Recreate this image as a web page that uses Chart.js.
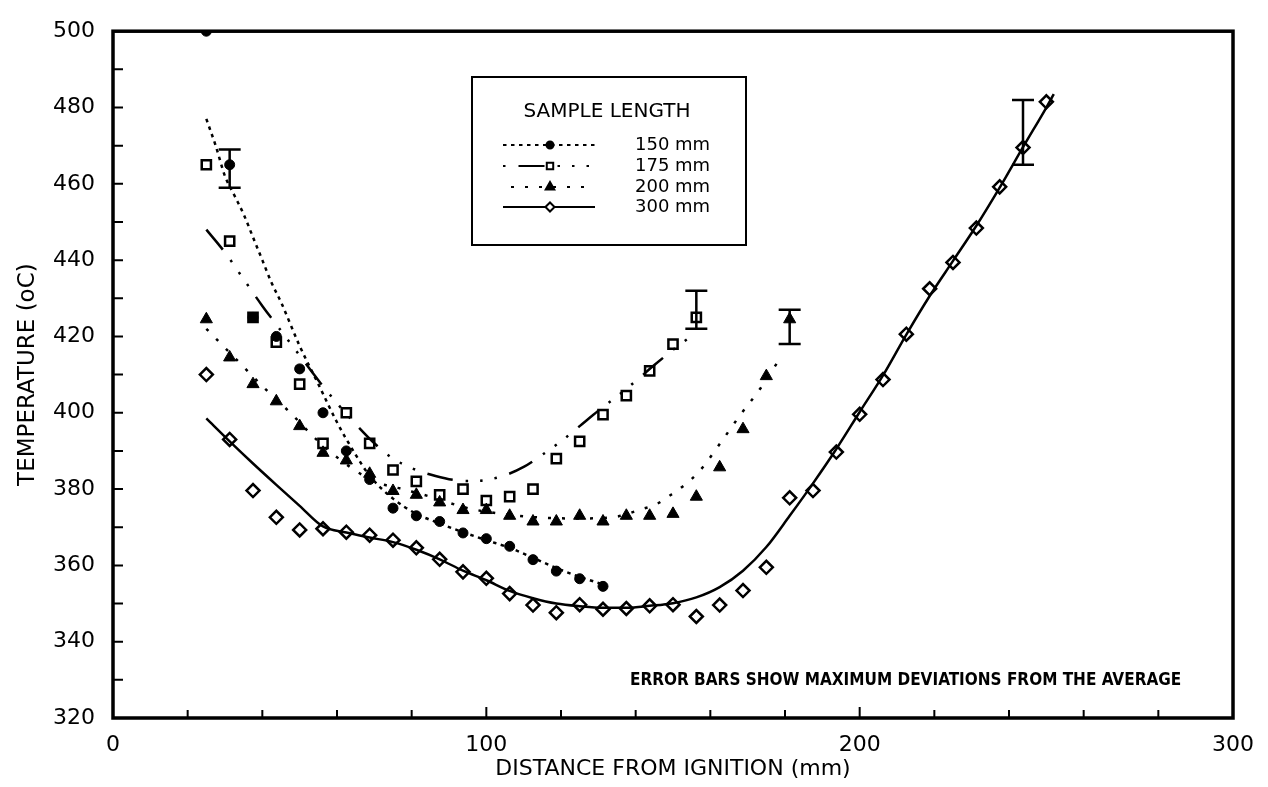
<!DOCTYPE html>
<html>
<head>
<meta charset="utf-8">
<script src="https://cdn.jsdelivr.net/npm/chart.js@4.4.0/dist/chart.umd.min.js"></script>
<style>
  html, body { margin: 0; padding: 0; background: #fff; }
  #wrap { width: 1268px; height: 787px; }
</style>
</head>
<body>
<div id="wrap"><canvas id="tempChart"></canvas></div>
<script>
// measured temperatures (oC) against distance from ignition (mm), per sample length
var dist150 = [25, 31.25, 37.5, 43.75, 50, 56.25, 62.5, 68.75, 75, 81.25, 87.5, 93.75, 100, 106.25, 112.5, 118.75, 125, 131.25];
var temp150 = [500, 465, 425, 420, 411.5, 400, 390, 382.5, 375, 373, 371.5, 368.5, 367, 365, 361.5, 358.5, 356.5, 354.5];

var dist175 = [25, 31.25, 37.5, 43.75, 50, 56.25, 62.5, 68.75, 75, 81.25, 87.5, 93.75, 100, 106.25, 112.5, 118.75, 125, 131.25, 137.5, 143.75, 150, 156.25];
var temp175 = [465, 445, 425, 418.5, 407.5, 392, 400, 392, 385, 382, 378.5, 380, 377, 378, 380, 388, 392.5, 399.5, 404.5, 411, 418, 425];

var dist200 = [25, 31.25, 37.5, 43.75, 50, 56.25, 62.5, 68.75, 75, 81.25, 87.5, 93.75, 100, 106.25, 112.5, 118.75, 125, 131.25, 137.5, 143.75, 150, 156.25, 162.5, 168.75, 175, 181.25];
var temp200 = [424.5, 414.5, 407.5, 403, 396.5, 389.5, 387.5, 384, 379.5, 378.5, 376.5, 374.5, 374.5, 373, 371.5, 371.5, 373, 371.5, 373, 373, 373.5, 378, 385.7, 395.7, 409.6, 424.5];

var dist300 = [25, 31.25, 37.5, 43.75, 50, 56.25, 62.5, 68.75, 75, 81.25, 87.5, 93.75, 100, 106.25, 112.5, 118.75, 125, 131.25, 137.5, 143.75, 150, 156.25, 162.5, 168.75, 175, 181.25, 187.5, 193.75, 200, 206.25, 212.5, 218.75, 225, 231.25, 237.5, 243.75, 250];
var temp300 = [410, 393, 379.6, 372.6, 369.3, 369.6, 368.7, 367.9, 366.6, 364.6, 361.6, 358.3, 356.6, 352.6, 349.6, 347.6, 349.7, 348.5, 348.7, 349.4, 349.7, 346.6, 349.6, 353.4, 359.5, 377.7, 379.6, 389.7, 399.6, 408.7, 420.6, 432.5, 439.4, 448.4, 459.2, 469.5, 481.5];

// fitted trend curves
var fit150X = [25, 27.5, 30, 32.5, 35, 37.5, 40, 42.5, 45, 50, 55, 60, 65, 68.75, 75, 81.25, 87.5, 93.75, 100, 106.25, 112.5, 118.75, 125, 131.25];
var fit150Y = [477, 470, 462, 457, 452, 446, 440, 434, 429, 417.5, 407.5, 397.5, 389, 383.5, 377.5, 373.5, 371, 368.7, 366.6, 364.6, 362, 359.3, 357, 355];

var fit175X = [25, 30, 35, 40, 45, 50, 55, 60, 65, 70, 75, 80, 85, 90, 95, 100, 105, 110, 115, 120, 125, 130, 135, 140, 145, 150, 156.25];
var fit175Y = [448, 442, 435, 428, 421.5, 415, 408.5, 402.5, 397, 392, 388, 385.5, 383.8, 382.6, 382.1, 382.4, 383.6, 385.8, 389, 392.5, 396.5, 400.5, 404.3, 408.3, 412.5, 416.5, 421];

var fit200X = [25, 30, 35, 40, 47.5, 55, 62.5, 70, 77.5, 85, 95, 105, 115, 125, 135, 141.5, 145.5, 149, 153, 157, 162.5, 168, 173.5, 178.5];
var fit200Y = [422, 417, 412, 407, 400, 392.5, 386.5, 382, 380, 378, 375, 373.4, 372.5, 372.3, 372.8, 374.7, 376, 378.2, 381, 384.6, 391.8, 399.4, 406.5, 414];

var fit300X = [25, 31.25, 37.5, 43.75, 50, 56.25, 62.5, 68.75, 75, 81.25, 87.5, 93.75, 100, 106.25, 112.5, 118.75, 125, 131.25, 137.5, 143.75, 150, 156.25, 162.5, 168.75, 175, 181.25, 187.5, 193.75, 200, 206.25, 212.5, 218.75, 225, 231.25, 237.5, 243.75, 250, 252];
var fit300Y = [398.5, 392.5, 386.7, 381.1, 375.6, 370.2, 368.6, 367.3, 366.1, 364.1, 361.6, 358.6, 356.1, 353.3, 351.4, 350, 349.3, 348.9, 348.9, 349.4, 350.1, 351.6, 354.3, 358.6, 364.8, 373, 381.5, 390.5, 400.2, 409.8, 420.5, 430.6, 439.8, 449, 459, 469.6, 480, 483.5];

// maximum deviations from the average
var errX = [31.25, 156.25, 181.25, 243.75];
var errLow = [459, 422, 418, 465];
var errHigh = [469, 432, 427, 482];

var seriesLabels = ['150 mm', '175 mm', '200 mm', '300 mm'];

function pairs(xs, ys) {
    return xs.map(function (x, i) { return { x: x, y: ys[i] }; });
}

var dashes = [
    [3.5, 4.5],
    [26, 13, 2.5, 12, 2.5, 12, 2.5, 13],
    [3, 11],
    []
];
// where each dash pattern starts in the legend samples
var legendDashOffset = [0, 68, 6, 0];

function fitSet(xs, ys, dash) {
    return {
        data: pairs(xs, ys),
        showLine: true,
        borderColor: '#000',
        borderWidth: 2.5,
        borderDash: dash,
        pointRadius: 0,
        cubicInterpolationMode: 'monotone'
    };
}

var markerStyles = [
    { pointStyle: 'circle', pointRadius: 5, pointBackgroundColor: '#000', pointBorderWidth: 1 },
    { pointStyle: 'rect', pointRadius: 6.5, pointBackgroundColor: 'rgba(0,0,0,0)', pointBorderWidth: 2.5 },
    { pointStyle: 'triangle', pointRadius: 7, pointBackgroundColor: '#000', pointBorderWidth: 1 },
    { pointStyle: 'rectRot', pointRadius: 6.5, pointBackgroundColor: 'rgba(0,0,0,0)', pointBorderWidth: 2.5 }
];

function pointSet(xs, ys, style) {
    return Object.assign({
        data: pairs(xs, ys),
        showLine: false,
        pointBorderColor: '#000'
    }, style);
}

var datasets = [
    fitSet(fit150X, fit150Y, dashes[0]),
    fitSet(fit175X, fit175Y, dashes[1]),
    fitSet(fit200X, fit200Y, dashes[2]),
    fitSet(fit300X, fit300Y, dashes[3]),
    pointSet(dist150, temp150, markerStyles[0]),
    pointSet(dist175, temp175, markerStyles[1]),
    pointSet(dist200, temp200, markerStyles[2]),
    pointSet(dist300, temp300, markerStyles[3])
];
// the first 150 mm reading sits on the top edge, let it be cut there
datasets[4].clip = { left: false, top: 0, right: false, bottom: false };

var frameAndTicks = {
    id: 'frameAndTicks',
    afterDatasetsDraw: function (chart) {
        var ctx = chart.ctx, a = chart.chartArea, x = chart.scales.x, y = chart.scales.y;
        ctx.save();
        ctx.strokeStyle = '#000';
        ctx.lineWidth = 2;
        ctx.beginPath();
        x.ticks.forEach(function (t) {
            if (t.value <= x.min || t.value >= x.max) return;
            var px = x.getPixelForValue(t.value);
            var len = t.value % 100 === 0 ? 11 : 8;
            ctx.moveTo(px, a.bottom);
            ctx.lineTo(px, a.bottom - len);
        });
        y.ticks.forEach(function (t) {
            if (t.value <= y.min || t.value >= y.max) return;
            var py = y.getPixelForValue(t.value);
            ctx.moveTo(a.left, py);
            ctx.lineTo(a.left + 10, py);
        });
        ctx.stroke();
        ctx.lineWidth = 3.5;
        ctx.strokeRect(a.left, a.top, a.right - a.left, a.bottom - a.top);
        ctx.restore();
    }
};

var errorBars = {
    id: 'errorBars',
    afterDatasetsDraw: function (chart) {
        var ctx = chart.ctx, x = chart.scales.x, y = chart.scales.y;
        ctx.save();
        ctx.strokeStyle = '#000';
        ctx.lineWidth = 2.5;
        errX.forEach(function (v, i) {
            var px = x.getPixelForValue(v);
            var lo = y.getPixelForValue(errLow[i]);
            var hi = y.getPixelForValue(errHigh[i]);
            ctx.beginPath();
            ctx.moveTo(px, lo); ctx.lineTo(px, hi);
            ctx.moveTo(px - 11, lo); ctx.lineTo(px + 11, lo);
            ctx.moveTo(px - 11, hi); ctx.lineTo(px + 11, hi);
            ctx.stroke();
        });
        ctx.restore();
    }
};

var sampleLegend = {
    id: 'sampleLegend',
    afterDraw: function (chart) {
        var ctx = chart.ctx;
        var box = { left: 472, top: 77, right: 746, bottom: 245 };
        ctx.save();
        ctx.fillStyle = '#fff';
        ctx.fillRect(box.left, box.top, box.right - box.left, box.bottom - box.top);
        ctx.strokeStyle = '#000';
        ctx.lineWidth = 2;
        ctx.strokeRect(box.left, box.top, box.right - box.left, box.bottom - box.top);

        ctx.fillStyle = '#000';
        ctx.font = '20px "DejaVu Sans"';
        ctx.textAlign = 'center';
        ctx.textBaseline = 'middle';
        ctx.fillText('SAMPLE LENGTH', 607, 112);

        var rows = [145, 166, 187, 207];
        ctx.font = '18px "DejaVu Sans"';
        ctx.textAlign = 'left';
        rows.forEach(function (ry, i) {
            ctx.save();
            ctx.lineWidth = 2;
            ctx.setLineDash(dashes[i]);
            ctx.lineDashOffset = legendDashOffset[i];
            ctx.beginPath();
            ctx.moveTo(503, ry);
            ctx.lineTo(595, ry);
            ctx.stroke();
            ctx.restore();
            var m = markerStyles[i];
            ctx.save();
            ctx.fillStyle = m.pointBackgroundColor === '#000' ? '#000' : '#fff';
            ctx.strokeStyle = '#000';
            ctx.lineWidth = 2;
            Chart.helpers.drawPoint(ctx, {
                pointStyle: m.pointStyle,
                radius: m.pointRadius * 0.7,
                rotation: 0,
                borderWidth: 2
            }, 550, ry);
            ctx.restore();
            ctx.fillText(seriesLabels[i], 635, ry);
        });
        ctx.restore();
    }
};

var noteText = {
    id: 'noteText',
    afterDraw: function (chart) {
        var ctx = chart.ctx;
        ctx.save();
        ctx.fillStyle = '#000';
        ctx.font = 'bold 17px "DejaVu Sans Condensed"';
        ctx.textAlign = 'left';
        ctx.textBaseline = 'middle';
        ctx.fillText('ERROR BARS SHOW MAXIMUM DEVIATIONS FROM THE AVERAGE', 630, 681);
        ctx.restore();
    }
};

Chart.defaults.font.family = '"DejaVu Sans", sans-serif';
Chart.defaults.color = '#000';

new Chart(document.getElementById('tempChart').getContext('2d'), {
    type: 'scatter',
    data: { datasets: datasets },
    options: {
        responsive: true,
        maintainAspectRatio: false,
        animation: false,
        layout: { padding: { left: 0, top: 20, right: 18, bottom: 0 } },
        plugins: {
            legend: { display: false },
            tooltip: { enabled: false }
        },
        scales: {
            x: {
                type: 'linear',
                min: 0,
                max: 300,
                grid: { display: false, drawTicks: false },
                border: { display: false },
                ticks: {
                    stepSize: 20,
                    autoSkip: false,
                    maxRotation: 0,
                    padding: 14,
                    font: { size: 22 },
                    callback: function (v) { return v % 100 === 0 ? v : ''; }
                },
                title: {
                    display: true,
                    text: 'DISTANCE FROM IGNITION (mm)',
                    font: { size: 22 },
                    padding: { top: 0, bottom: 5 }
                },
                afterFit: function (scale) { scale.height = 69; }
            },
            y: {
                min: 320,
                max: 500,
                grid: { display: false, drawTicks: false },
                border: { display: false },
                ticks: {
                    stepSize: 10,
                    autoSkip: false,
                    padding: 18,
                    font: { size: 22 },
                    callback: function (v) { return v % 20 === 0 ? v : ''; }
                },
                title: {
                    display: true,
                    text: 'TEMPERATURE (oC)',
                    font: { size: 23 },
                    padding: { top: 14, bottom: 0 }
                },
                afterFit: function (scale) { scale.width = 113; }
            }
        }
    },
    plugins: [frameAndTicks, errorBars, sampleLegend, noteText]
});
</script>
</body>
</html>
